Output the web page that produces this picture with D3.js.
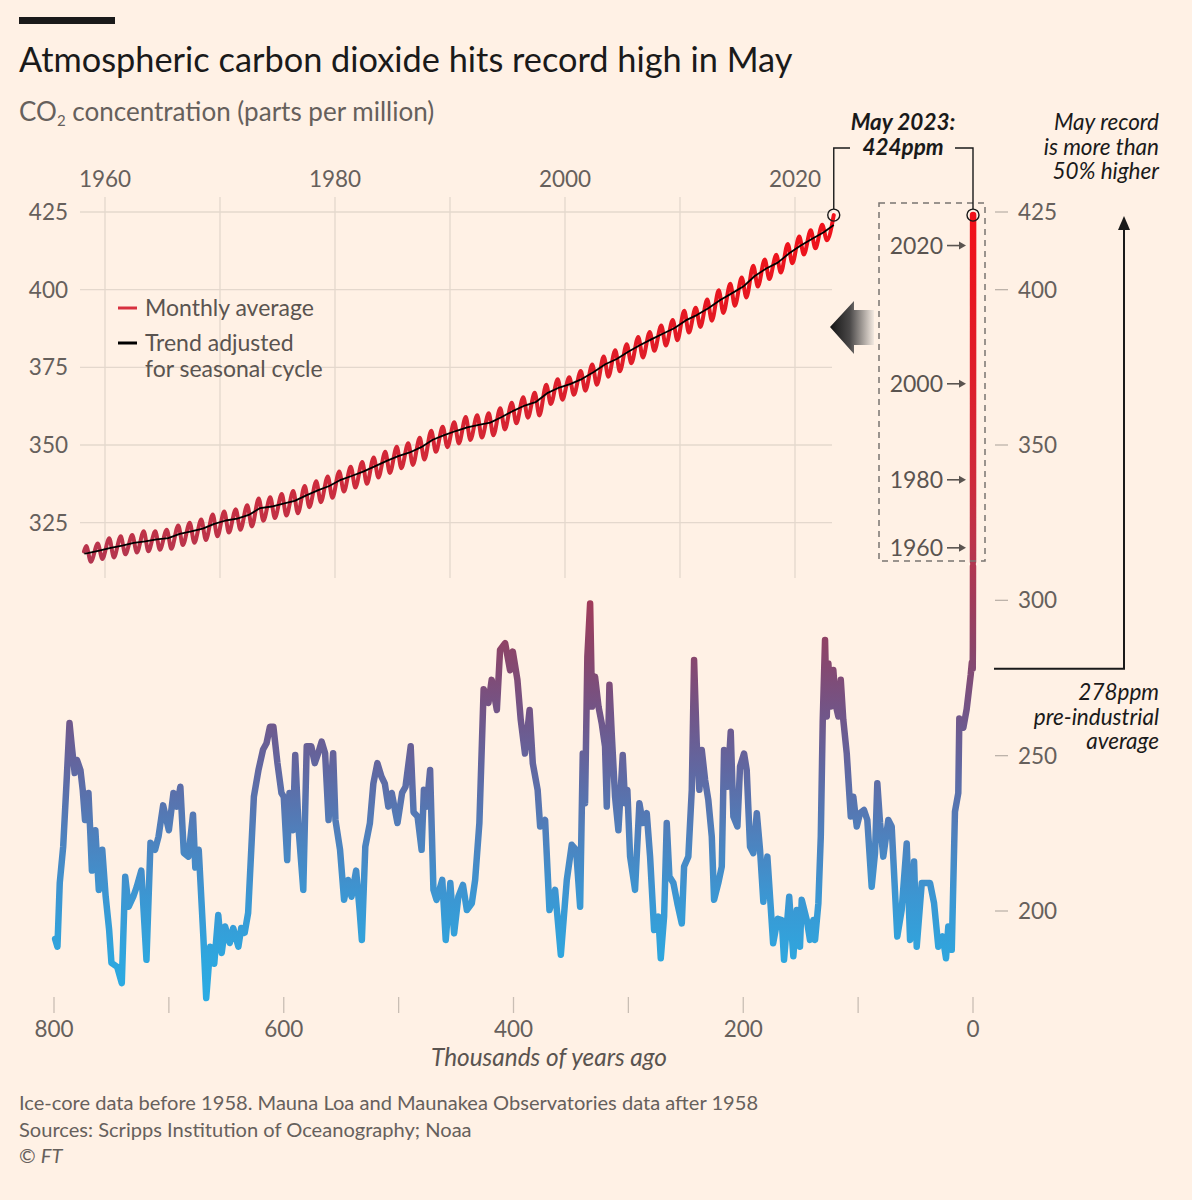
<!DOCTYPE html>
<html><head><meta charset="utf-8">
<script src="https://cdn.jsdelivr.net/npm/d3@7"></script>
<style>html,body{margin:0;padding:0;background:#fff1e5;} svg{display:block;font-family:Lato,"Open Sans",sans-serif;}</style>
</head><body><div id="chart"></div>
<script>
// ---------- DATA ----------
const mlYears = d3.range(1958, 2024); // 1958..2023
const marchStart = [1958.17, 315.7];
const mayPeak = [
317.5,318.3,320.0,320.6,321.0,322.2,322.2,322.7,324.1,325.0,
326.0,327.6,328.6,329.3,330.6,332.8,333.2,334.2,335.2,336.8,
338.3,339.9,341.5,343.0,344.5,346.0,347.8,349.4,350.6,352.3,
354.6,355.9,357.3,359.0,359.6,360.2,361.8,363.6,365.4,366.8,
369.4,371.2,371.8,373.8,375.9,378.5,380.5,382.4,384.8,386.4,
388.5,390.2,393.2,394.2,396.8,399.8,401.9,403.9,407.7,409.7,
411.2,414.7,417.1,419.1,420.9,424.0];
const autumnLow = [
312.4,313.3,313.8,314.8,315.4,315.8,316.3,316.6,317.8,318.5,
319.4,320.6,321.8,322.7,323.8,325.6,326.5,327.3,328.0,330.0,
331.6,333.0,335.0,336.3,337.5,339.5,341.0,342.5,343.6,345.3,
347.8,349.3,350.5,351.6,352.4,353.1,355.0,357.0,358.8,359.5,
363.2,364.6,366.2,367.5,369.4,372.0,373.7,376.3,378.2,380.3,
382.0,383.7,386.2,388.0,390.0,392.5,394.8,397.5,401.0,403.4,
405.5,408.5,411.3,413.3,415.9];
const annualMean = [
315.2,316.0,316.9,317.6,318.5,319.0,319.6,320.0,321.4,322.2,
323.1,324.6,325.7,326.3,327.5,329.7,330.2,331.1,332.0,333.8,
335.4,336.8,338.8,340.1,341.5,343.2,344.9,346.4,347.6,349.3,
351.7,353.2,354.5,355.7,356.5,357.2,359.0,361.0,362.7,363.9,
366.8,368.5,369.7,371.3,373.5,376.0,377.7,380.0,382.1,384.0,
385.8,387.6,390.1,391.9,394.1,396.7,398.8,401.0,404.4,406.8,
408.7,411.7,414.2,416.4,418.5,420.8];
// ice core: [thousand years ago, ppm]
const iceCore = [[799,191],[797,188.5],[795,209],[792,220.7],[789,242],[786.5,260.5],[784.5,253],[782,244.4],[780,248.6],[777,245.4],[775,239],[773,229.3],[770,238],[768.5,226],[767,213],[764,226],[761,206.8],[758,219.7],[755,204.6],[752,193.9],[750,183.3],[745,182],[741,176.8],[738,211],[735,201.4],[731,204.6],[728,207.8],[724,213],[719.5,184.3],[716,222],[712,219.7],[709,224],[705,234],[700,226],[696,238],[693,233.6],[690,240],[687,218.7],[683,217.5],[679,231],[677,214],[674,219.7],[670,191.8],[667.5,172],[664,188.5],[660.5,183],[657,198.7],[654,186.5],[651,195],[647,189.7],[644,194.5],[639.5,188.5],[637,194.5],[634,193],[631,199.4],[626,236.8],[622,245.4],[618,252],[615,254],[612,259.3],[609,259.3],[605.5,247.6],[602,238],[600,236.8],[597,216.4],[595,238],[592,226],[590,250.2],[587,226],[583,206.8],[580,253],[576,253],[573,247.6],[570,250.8],[567,254.5],[564,250.8],[561,229.3],[557,250.8],[555,229.3],[551,219.7],[547.5,203.6],[544,210],[541,204.6],[537,213],[534,200.3],[532,190.7],[529,220.7],[525,228.3],[522,241],[518.5,247.6],[515,243.3],[512,241],[509,233.6],[506,238],[501,228.3],[497,238],[494,240],[489.5,253],[487,231.8],[483.5,230.4],[480,219.7],[478,239],[475.5,233.6],[472.6,245.4],[469.7,206.8],[467,203.6],[462,210],[459,190.7],[455,209],[451.7,192.8],[448,204.6],[444,208.4],[440.6,200.3],[436.3,202.5],[433.4,210],[429.7,228.3],[426,271.4],[421.8,267],[419,274.4],[414.5,264.7],[411.7,284],[407.3,286.2],[403,277.5],[400.6,283.5],[396.6,274.4],[393.7,261.5],[390,250.7],[386,264.7],[383.2,247.5],[379,239],[376.8,227.2],[372.5,229.3],[368.7,200.3],[363.8,206.8],[358.8,185.9],[353.6,210],[349.3,221.3],[345.5,219.7],[342,201.4],[339.7,250.7],[337.7,234.7],[335.7,281.9],[333.3,299],[331.6,265.8],[329,275.4],[326,265.8],[323.2,260.4],[320.3,252.9],[318.8,233.6],[316.5,272.8],[314.5,257.2],[311.6,236.8],[308.7,226],[304.9,250.2],[302.9,234.7],[300.9,239],[298.5,217.5],[294.2,206.8],[290.4,234.7],[287.5,228.3],[284,231.5],[281.1,217.5],[277.6,193.9],[273.9,198.2],[271.8,184.8],[268.9,198.2],[266.6,228.3],[264.3,211.1],[260.8,209],[257.4,202.5],[253.5,196],[251.5,214.3],[247.8,217.5],[244.8,239],[242.8,280.8],[240.5,254],[238.2,239],[236.1,251.8],[233.2,242.2],[230.4,235.7],[227.4,224],[225.4,203.6],[221.7,209],[218.7,214.3],[216.7,251.8],[213.8,240],[210.9,257.7],[208.6,230.4],[205.1,227.2],[202.8,246.5],[199.3,250.7],[197,245.4],[194.1,220.7],[191.2,218.6],[188.2,231.5],[185.4,219.7],[182.5,203],[179,217.5],[174,189.6],[170,197.5],[166.5,197.1],[164.5,184.3],[160,204.6],[156.4,185.4],[153.4,200.3],[150.6,188.5],[149.1,203.6],[144.7,197.1],[141.9,190.7],[139,197.1],[137.5,190.7],[134.6,202.5],[132.5,224],[130.8,261.5],[128.8,287.2],[127.3,262.6],[125.9,279.7],[123.8,265.8],[121.6,277.6],[119.2,265.8],[117.2,262.6],[115.1,274.4],[112.9,261.5],[109.9,250.7],[107.7,237.9],[106.4,230.4],[104.2,236.8],[101.2,227.2],[98.3,231.5],[94.9,232.5],[92,229.3],[88.2,207.8],[85.3,218.6],[83.3,241.1],[80.9,228.3],[78.1,217.5],[73.7,229.3],[70.8,227.2],[65.9,191.8],[62.1,200.3],[57.7,221.7],[54.8,190.7],[51.3,215.9],[49,188.5],[44.6,209],[37.4,209],[33.9,202.5],[30.2,188.5],[26.4,191.8],[23.5,184.8],[21.5,195],[18.5,187.5],[15.7,232],[12.8,238],[11.9,262],[8.4,259],[5.5,265],[2,276],[1,280],[0.25,278],[0.1,285],[0.05,296],[0.01,311]];

const insetYTicks = [325,350,375,400,425];
const insetXTicks = [1960,1970,1980,1990,2000,2010,2020];
const insetXLabels = [1960,1980,2000,2020];
const rightTicks = [425,400,350,300,250,200];
const kyrTicks = [800,700,600,500,400,300,200,100,0];
const kyrLabels = [800,600,400,200,0];
const boxYears = [2020,2000,1980,1960];
const preIndustrial = 278;
const recordValue = 424;
const recordDate = 2023.37;
const gradStops = [[425,'#f2111a'],[400,'#e8161f'],[370,'#dd1f2b'],[340,'#cf2a3a'],[320,'#bd3349'],[300,'#a13b5a'],[285,'#8c4468'],[265,'#735486'],[245,'#6068a2'],[225,'#4f80bc'],[205,'#3c96d2'],[185,'#2fa6de'],[170,'#2aace4']];

// ---------- SCALES ----------
const W = 1192, H = 1200;
const y = d3.scaleLinear().domain([200, 425]).range([911, 212]);
const xYear = d3.scaleLinear().domain([1960, 2020]).range([105, 795]);
const xKyr = d3.scaleLinear().domain([800, 0]).range([54, 973]);
const TICK = 22.5, TICKC = '#66605c';

const svg = d3.select('#chart').append('svg').attr('width', W).attr('height', H);
svg.append('rect').attr('width', W).attr('height', H).attr('fill', '#fff1e5');

const defs = svg.append('defs');
const g0 = y(425), g1 = y(170);
const lg = defs.append('linearGradient').attr('id', 'co2grad').attr('gradientUnits', 'userSpaceOnUse')
  .attr('x1', 0).attr('x2', 0).attr('y1', g0).attr('y2', g1);
gradStops.forEach(([v, c]) => lg.append('stop').attr('offset', (y(v) - g0) / (g1 - g0)).attr('stop-color', c));
const ag = defs.append('linearGradient').attr('id', 'arrowgrad').attr('gradientUnits', 'userSpaceOnUse')
  .attr('x1', 830).attr('x2', 874).attr('y1', 0).attr('y2', 0);
ag.append('stop').attr('offset', 0).attr('stop-color', '#141414');
ag.append('stop').attr('offset', 0.45).attr('stop-color', '#4a4848');
ag.append('stop').attr('offset', 1).attr('stop-color', '#f3e9e0');

function fit(sel, w) {
  const L = sel.node().getComputedTextLength();
  const fs = parseFloat(sel.attr('font-size'));
  sel.attr('font-size', (fs * w / L).toFixed(2));
}

// ---------- HEADER ----------
svg.append('rect').attr('x', 19).attr('y', 17).attr('width', 96).attr('height', 7).attr('fill', '#1a1a1a');
const title = svg.append('text').attr('x', 19).attr('y', 72).attr('font-size', 33).attr('fill', '#1a1a1a')
  .text('Atmospheric carbon dioxide hits record high in May');
fit(title, 774);
const sub = svg.append('text').attr('x', 19).attr('y', 121).attr('font-size', 22).attr('fill', '#66605c');
sub.append('tspan').text('CO');
sub.append('tspan').attr('font-size', 15).attr('dy', 5).text('2');
sub.append('tspan').attr('dy', -5).text(' concentration (parts per million)');
fit(sub, 417);

// ---------- INSET (Mauna Loa) ----------
const grid = svg.append('g').attr('stroke', '#e4d8cd').attr('stroke-width', 1.3);
insetYTicks.forEach(v => grid.append('line').attr('x1', 80).attr('x2', 832).attr('y1', y(v)).attr('y2', y(v)));
insetXTicks.forEach(v => grid.append('line').attr('x1', xYear(v)).attr('x2', xYear(v)).attr('y1', 197).attr('y2', 578));
insetYTicks.forEach(v => svg.append('text').attr('x', 68).attr('y', y(v) + 8).attr('text-anchor', 'end')
  .attr('font-size', TICK).attr('fill', TICKC).text(v));
insetXLabels.forEach(v => svg.append('text').attr('x', xYear(v)).attr('y', 187).attr('text-anchor', 'middle')
  .attr('font-size', TICK).attr('fill', TICKC).text(v));

const monthly = [marchStart];
mlYears.forEach((yr, i) => {
  monthly.push([yr + 0.37, mayPeak[i]]);
  if (i < autumnLow.length) monthly.push([yr + 0.77, autumnLow[i]]);
});
const trend = [[1958.2, 315.0]].concat(mlYears.map((yr, i) => [yr + 0.5, annualMean[i]]));
trend[trend.length - 1] = [recordDate, annualMean[annualMean.length - 1]];

svg.append('path').datum(monthly).attr('fill', 'none').attr('stroke', 'url(#co2grad)').attr('stroke-width', 4)
  .attr('stroke-linejoin', 'round').attr('stroke-linecap', 'round')
  .attr('d', d3.line().x(d => xYear(d[0])).y(d => y(d[1])).curve(d3.curveMonotoneX));
svg.append('path').datum(trend).attr('fill', 'none').attr('stroke', '#000').attr('stroke-width', 1.8)
  .attr('stroke-linejoin', 'round')
  .attr('d', d3.line().x(d => xYear(d[0])).y(d => y(d[1])));

// legend
const leg = svg.append('g');
const LEGF = 23, LEGC = '#5a5450';
leg.append('line').attr('x1', 118).attr('x2', 137).attr('y1', 308).attr('y2', 308).attr('stroke', '#d7303f').attr('stroke-width', 3);
leg.append('text').attr('x', 145).attr('y', 316).attr('font-size', LEGF).attr('fill', LEGC).text('Monthly average');
leg.append('line').attr('x1', 118).attr('x2', 137).attr('y1', 343).attr('y2', 343).attr('stroke', '#000').attr('stroke-width', 3);
leg.append('text').attr('x', 145).attr('y', 351).attr('font-size', LEGF).attr('fill', LEGC).text('Trend adjusted');
leg.append('text').attr('x', 145).attr('y', 377).attr('font-size', LEGF).attr('fill', LEGC).text('for seasonal cycle');

// big arrow
svg.append('path').attr('d', 'M830,327 L854,301 L854,310 L874,310 L874,345 L854,345 L854,354 Z').attr('fill', 'url(#arrowgrad)');

// ---------- ICE CORE ----------
svg.append('path').datum(iceCore).attr('fill', 'none').attr('stroke', 'url(#co2grad)').attr('stroke-width', 6.5)
  .attr('stroke-linejoin', 'round').attr('stroke-linecap', 'round')
  .attr('d', d3.line().x(d => xKyr(d[0])).y(d => y(d[1])));
svg.append('path').datum(monthly).attr('fill', 'none').attr('stroke', 'url(#co2grad)').attr('stroke-width', 6.5)
  .attr('stroke-linejoin', 'round').attr('stroke-linecap', 'round')
  .attr('d', d3.line().x(d => xKyr((1950 - d[0]) / 1000)).y(d => y(d[1])));

// x axis (kyr)
kyrTicks.forEach(k => svg.append('line').attr('x1', xKyr(k)).attr('x2', xKyr(k)).attr('y1', 997).attr('y2', 1013)
  .attr('stroke', '#c9beb4').attr('stroke-width', 1.3));
kyrLabels.forEach(k => svg.append('text').attr('x', xKyr(k)).attr('y', 1037).attr('text-anchor', 'middle')
  .attr('font-size', TICK).attr('fill', TICKC).text(k));
const xt = svg.append('text').attr('x', 549).attr('y', 1066).attr('text-anchor', 'middle').attr('font-size', 22)
  .attr('font-style', 'italic').attr('fill', '#5a5450').text('Thousands of years ago');
fit(xt, 236);

// right axis
rightTicks.forEach(v => {
  svg.append('line').attr('x1', 995).attr('x2', 1008).attr('y1', y(v)).attr('y2', y(v)).attr('stroke', '#bdb3aa').attr('stroke-width', 1.3);
  svg.append('text').attr('x', 1018).attr('y', y(v) + 8).attr('font-size', TICK).attr('fill', TICKC).text(v);
});

// dashed box with year markers
svg.append('rect').attr('x', 879).attr('y', 203).attr('width', 106).attr('height', 358)
  .attr('fill', 'none').attr('stroke', '#7a7470').attr('stroke-width', 1.5).attr('stroke-dasharray', '6,5');
boxYears.forEach(yr => {
  const yy = y(annualMean[yr - 1958]);
  svg.append('text').attr('x', 943).attr('y', yy + 8).attr('text-anchor', 'end').attr('font-size', 23)
    .attr('fill', '#5a5450').text(yr);
  svg.append('line').attr('x1', 947).attr('x2', 962).attr('y1', yy).attr('y2', yy).attr('stroke', '#5a5450').attr('stroke-width', 1.6);
  svg.append('path').attr('d', `M966,${yy} L959,${yy - 4} L959,${yy + 4} Z`).attr('fill', '#5a5450');
});

// record circles + bracket
const cx1 = xYear(recordDate), cx2 = xKyr(0), cy = y(recordValue);
svg.append('path').attr('d', `M${cx1},${cy - 6} V148 H850 M955,148 H${cx2} V${cy - 6}`)
  .attr('fill', 'none').attr('stroke', '#1a1a1a').attr('stroke-width', 1.4);
[cx1, cx2].forEach(cx => svg.append('circle').attr('cx', cx).attr('cy', cy).attr('r', 6)
  .attr('fill', 'none').attr('stroke', '#1a1a1a').attr('stroke-width', 1.4));
svg.append('text').attr('x', 903).attr('y', 130).attr('text-anchor', 'middle').attr('font-size', 22.5)
  .attr('font-weight', 'bold').attr('font-style', 'italic').attr('fill', '#1a1a1a').text('May 2023:');
svg.append('text').attr('x', 903).attr('y', 155).attr('text-anchor', 'middle').attr('font-size', 22.5)
  .attr('font-weight', 'bold').attr('font-style', 'italic').attr('fill', '#1a1a1a').text(recordValue + 'ppm');

// right annotations
['May record', 'is more than', '50% higher'].forEach((t, i) => svg.append('text').attr('x', 1159).attr('y', 130 + i * 24.5)
  .attr('text-anchor', 'end').attr('font-size', 22.5).attr('font-style', 'italic').attr('fill', '#1a1a1a').text(t));
const yPre = y(preIndustrial);
svg.append('path').attr('d', `M994,${yPre} H1124 V228`).attr('fill', 'none').attr('stroke', '#1a1a1a').attr('stroke-width', 2);
svg.append('path').attr('d', 'M1124,216 L1118,230 L1130,230 Z').attr('fill', '#1a1a1a');
[preIndustrial + 'ppm', 'pre-industrial', 'average'].forEach((t, i) => svg.append('text').attr('x', 1159).attr('y', 700 + i * 24.5)
  .attr('text-anchor', 'end').attr('font-size', 22.5).attr('font-style', 'italic').attr('fill', '#1a1a1a').text(t));

// ---------- FOOTER ----------
const f1 = svg.append('text').attr('x', 19).attr('y', 1110).attr('font-size', 18).attr('fill', '#66605c')
  .text('Ice-core data before 1958. Mauna Loa and Maunakea Observatories data after 1958');
fit(f1, 739);
const fs = f1.attr('font-size');
svg.append('text').attr('x', 19).attr('y', 1137).attr('font-size', fs).attr('fill', '#66605c')
  .text('Sources: Scripps Institution of Oceanography; Noaa');
const f3 = svg.append('text').attr('x', 19).attr('y', 1163).attr('font-size', fs).attr('fill', '#66605c');
f3.append('tspan').text('© ');
f3.append('tspan').attr('font-style', 'italic').text('FT');
</script>
</body></html>
